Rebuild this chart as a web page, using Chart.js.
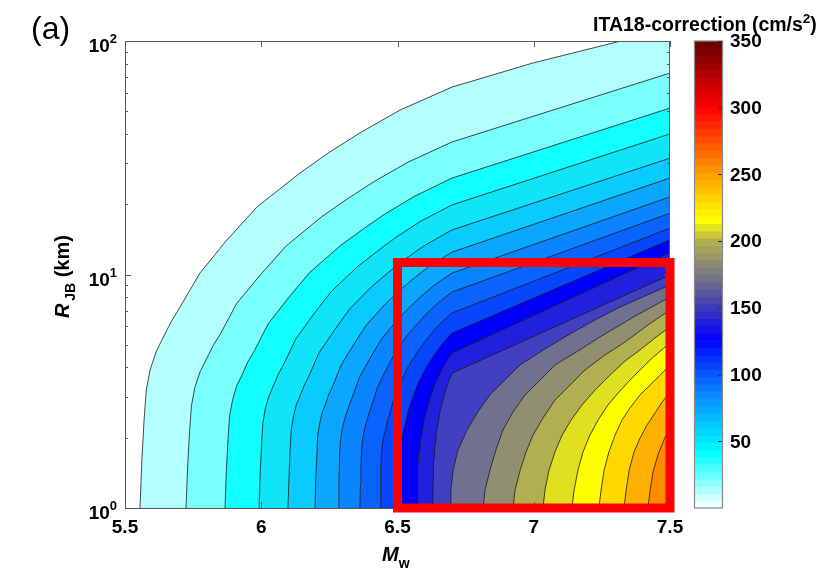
<!DOCTYPE html>
<html>
<head>
<meta charset="utf-8">
<script src="https://cdn.jsdelivr.net/npm/chart.js@4.4.1/dist/chart.umd.min.js"></script>
<style>
  html,body{margin:0;padding:0;background:#fff;}
  #wrap{position:relative;width:822px;height:570px;}
</style>
</head>
<body>
<div id="wrap"><canvas id="c" width="822" height="570"></canvas></div>
<script>
// ---------- data ----------
const xTicks = [5.5, 6, 6.5, 7, 7.5];
const yDecades = [1, 10, 100];
const cbarTicks = [50, 100, 150, 200, 250, 300, 350];
const cbarMax = 350;
// lower level of each filled band (cm/s^2), estimated
const levels = [12.5, 25, 37.5, 50, 62.5, 75, 87.5, 100, 112.5, 125, 137.5, 150, 162.5, 175, 187.5, 200, 212.5, 225, 237.5, 250];
// contour lines: Mw and R_JB (km) of each vertex
const contourMw = [
  [5.555, 5.562, 5.570, 5.578, 5.592, 5.614, 5.639, 5.669, 5.702, 5.775, 5.874, 5.984, 6.142, 6.252, 6.362, 6.509, 6.700, 6.997, 7.305, 7.5],
  [5.724, 5.730, 5.737, 5.744, 5.756, 5.775, 5.797, 5.822, 5.851, 5.909, 5.997, 6.090, 6.222, 6.319, 6.412, 6.539, 6.700, 7.5],
  [5.867, 5.872, 5.878, 5.884, 5.895, 5.910, 5.930, 5.950, 5.975, 6.025, 6.100, 6.179, 6.292, 6.375, 6.454, 6.563, 6.700, 7.5],
  [5.992, 5.996, 6.001, 6.006, 6.015, 6.029, 6.045, 6.063, 6.084, 6.127, 6.190, 6.258, 6.353, 6.424, 6.491, 6.583, 6.700, 7.5],
  [6.098, 6.102, 6.106, 6.110, 6.118, 6.129, 6.143, 6.158, 6.176, 6.212, 6.267, 6.324, 6.405, 6.465, 6.522, 6.601, 6.700, 7.5],
  [6.197, 6.200, 6.204, 6.207, 6.214, 6.223, 6.235, 6.247, 6.262, 6.293, 6.338, 6.386, 6.454, 6.504, 6.552, 6.617, 6.700, 7.5],
  [6.282, 6.285, 6.287, 6.290, 6.296, 6.304, 6.313, 6.324, 6.336, 6.361, 6.399, 6.439, 6.495, 6.537, 6.577, 6.631, 6.700, 7.5],
  [6.362, 6.364, 6.366, 6.369, 6.373, 6.380, 6.387, 6.396, 6.406, 6.426, 6.457, 6.489, 6.534, 6.568, 6.600, 6.644, 6.700, 7.5],
  [6.436, 6.438, 6.439, 6.441, 6.445, 6.450, 6.456, 6.462, 6.470, 6.486, 6.510, 6.535, 6.571, 6.597, 6.622, 6.656, 6.700, 7.5],
  [6.502, 6.503, 6.505, 6.506, 6.509, 6.512, 6.517, 6.522, 6.528, 6.540, 6.557, 6.576, 6.603, 6.623, 6.642, 6.667, 6.700, 7.5],
  [6.572, 6.573, 6.574, 6.575, 6.576, 6.579, 6.582, 6.585, 6.589, 6.596, 6.608, 6.620, 6.637, 6.650, 6.662, 6.679, 6.700, 7.5],
  [6.630, 6.6302, 6.631, 6.6312, 6.632, 6.634, 6.635, 6.637, 6.639, 6.643, 6.650, 6.656, 6.666, 6.673, 6.679, 6.689, 6.700, 7.5],
  [6.693, 6.696, 6.704, 6.722, 6.755, 6.795, 6.839, 6.894, 6.950, 7.041, 7.133, 7.225, 7.317, 7.408, 7.5],
  [6.814, 6.821, 6.839, 6.861, 6.887, 6.924, 6.968, 7.023, 7.078, 7.162, 7.243, 7.372, 7.5],
  [6.924, 6.931, 6.950, 6.972, 6.997, 7.034, 7.078, 7.133, 7.188, 7.261, 7.335, 7.419, 7.5],
  [7.034, 7.041, 7.056, 7.078, 7.104, 7.137, 7.177, 7.225, 7.280, 7.335, 7.390, 7.445, 7.5],
  [7.140, 7.148, 7.162, 7.181, 7.206, 7.236, 7.272, 7.313, 7.353, 7.390, 7.427, 7.464, 7.5],
  [7.239, 7.247, 7.258, 7.276, 7.298, 7.324, 7.353, 7.390, 7.427, 7.464, 7.5],
  [7.331, 7.339, 7.350, 7.368, 7.390, 7.416, 7.445, 7.471, 7.5],
  [7.419, 7.427, 7.438, 7.456, 7.478, 7.5]
];
const contourR = [
  [1, 1.61, 2.38, 3.20, 3.90, 4.66, 5.35, 6.26, 7.26, 10.15, 14.05, 19.45, 27.2, 33.5, 40.4, 50.6, 63.5, 80.5, 99.0, 113.7],
  [1, 1.51, 2.13, 2.75, 3.27, 3.82, 4.30, 4.93, 5.59, 7.49, 9.97, 13.21, 17.69, 21.19, 24.93, 30.29, 36.94, 72.9],
  [1, 1.45, 1.97, 2.49, 2.91, 3.34, 3.72, 4.21, 4.72, 6.14, 7.95, 10.24, 13.33, 15.68, 18.16, 21.64, 25.88, 51.6],
  [1, 1.41, 1.87, 2.31, 2.67, 3.03, 3.35, 3.75, 4.16, 5.30, 6.71, 8.48, 10.80, 12.53, 14.34, 16.86, 19.86, 40.0],
  [1, 1.37, 1.77, 2.16, 2.46, 2.77, 3.03, 3.36, 3.70, 4.62, 5.74, 7.11, 8.87, 10.18, 11.51, 13.35, 15.52, 31.5],
  [1, 1.33, 1.69, 2.03, 2.29, 2.55, 2.77, 3.05, 3.33, 4.09, 4.99, 6.08, 7.45, 8.46, 9.47, 10.86, 12.47, 25.9],
  [1, 1.30, 1.62, 1.91, 2.14, 2.36, 2.55, 2.78, 3.02, 3.64, 4.37, 5.24, 6.32, 7.10, 7.88, 8.93, 10.14, 21.5],
  [1, 1.27, 1.56, 1.82, 2.01, 2.20, 2.36, 2.56, 2.76, 3.28, 3.88, 4.59, 5.45, 6.06, 6.67, 7.48, 8.41, 18.3],
  [1, 1.24, 1.49, 1.71, 1.88, 2.04, 2.17, 2.34, 2.50, 2.92, 3.40, 3.95, 4.62, 5.09, 5.55, 6.15, 6.84, 15.8],
  [1, 1.22, 1.43, 1.62, 1.76, 1.90, 2.01, 2.14, 2.28, 2.62, 3.00, 3.43, 3.95, 4.30, 4.65, 5.10, 5.61, 14.1],
  [1, 1.19, 1.38, 1.53, 1.65, 1.76, 1.85, 1.97, 2.07, 2.35, 2.65, 2.98, 3.38, 3.65, 3.91, 4.24, 4.61, 12.4],
  [1, 1.16, 1.32, 1.45, 1.55, 1.64, 1.71, 1.80, 1.89, 2.10, 2.33, 2.59, 2.88, 3.08, 3.27, 3.52, 3.78, 9.95],
  [1, 1.19, 1.45, 1.77, 2.16, 2.58, 3.05, 3.53, 4.10, 4.80, 5.56, 6.39, 7.26, 8.09, 9.02],
  [1, 1.19, 1.45, 1.77, 2.16, 2.58, 3.05, 3.53, 4.10, 4.70, 5.40, 6.64, 8.01],
  [1, 1.19, 1.45, 1.74, 2.05, 2.43, 2.90, 3.36, 3.90, 4.52, 5.14, 6.08, 7.05],
  [1, 1.19, 1.45, 1.74, 2.05, 2.38, 2.76, 3.20, 3.71, 4.26, 4.75, 5.35, 5.96],
  [1, 1.19, 1.45, 1.74, 2.05, 2.38, 2.76, 3.14, 3.53, 3.90, 4.30, 4.70, 5.09],
  [1, 1.19, 1.45, 1.74, 2.05, 2.38, 2.68, 3.05, 3.36, 3.71, 4.10],
  [1, 1.19, 1.45, 1.74, 1.99, 2.27, 2.55, 2.84, 3.14],
  [1, 1.19, 1.43, 1.69, 1.96, 2.22]
];
// highlighted box (Mw, R)
const boxMw = [6.5, 6.5, 7.5, 7.5, 6.5];
const boxR = [1, 11.25, 11.25, 1, 1];

// ---------- styles ----------
const bandColors = ['#b3ffff','#7affff','#12ffff','#10e4f8','#0acbff','#0aa6ff','#0a85ff','#0a62ff','#0646ff','#0000ff',
  '#2020dd','#4040c0','#707090','#909070','#b0b050','#e0e020','#ffff00','#ffd800','#ffb000','#ff8c00'];
const cmapStops = [[0,'#ffffff'],[42,'#00ffff'],[85,'#0a8aff'],[127,'#0000ff'],[150,'#3a3ab8'],[176,'#7a7a80'],
  [200,'#b0b050'],[216,'#ffff00'],[250,'#ffa000'],[300,'#ff0000'],[350,'#660000']];
const FONT = '"Liberation Sans", Arial, Helvetica, sans-serif';

function hex2rgb(h){return [parseInt(h.slice(1,3),16),parseInt(h.slice(3,5),16),parseInt(h.slice(5,7),16)];}
function cmap(v){
  for(let i=0;i<cmapStops.length-1;i++){
    const [a,ca]=cmapStops[i],[b,cb]=cmapStops[i+1];
    if(v<=b){const t=(v-a)/(b-a);const A=hex2rgb(ca),B=hex2rgb(cb);
      return 'rgb('+A.map((x,k)=>Math.round(x+(B[k]-x)*t)).join(',')+')';}
  }
  return cmapStops[cmapStops.length-1][1];
}

const datasets = contourMw.map((mw,i)=>({
  label: 'level ' + levels[i],
  data: mw.map((m,j)=>({x:m, y:contourR[i][j]})),
  borderColor:'#1c1c1c', borderWidth:0.8, pointRadius:0, tension:0,
  fill:'start', backgroundColor:bandColors[i], order:100-i, clip:0
}));
datasets.push({
  label:'box', data: boxMw.map((m,j)=>({x:m, y:boxR[j]})),
  borderColor:'#ff0000', borderWidth:9, pointRadius:0, tension:0, fill:false,
  order:-1, clip:false, borderJoinStyle:'miter', borderCapStyle:'square'
});

function drawMixed(ctx, parts, x, y){ // parts: [text, font, dy]
  let cx=x;
  for(const [t,f,dy] of parts){ctx.font=f; ctx.fillText(t,cx,y+dy); cx+=ctx.measureText(t).width;}
  return cx;
}
function mixedWidth(ctx, parts){let w=0;for(const [t,f] of parts){ctx.font=f;w+=ctx.measureText(t).width;}return w;}

const decor = {
  id:'decor',
  afterDatasetDraw(chart,args){
    if(args.index!==contourMw.length-1) return;
    const {ctx, chartArea:a, scales:{x,y}} = chart;
    ctx.save();
    ctx.strokeStyle='#5a5a5a'; ctx.lineWidth=1;
    ctx.strokeRect(a.left+0.5, a.top+0.5, a.right-a.left-1, a.bottom-a.top);
    ctx.beginPath();
    for(const t of xTicks){const px=Math.round(x.getPixelForValue(t))+0.5;
      ctx.moveTo(px,a.bottom); ctx.lineTo(px,a.bottom-6); ctx.moveTo(px,a.top); ctx.lineTo(px,a.top+6);}
    for(const d of [1,10]){for(let k=1;k<=10;k++){const v=d*k; const py=Math.round(y.getPixelForValue(v))+0.5;
      const len=(k===1||k===10)?6:3;
      ctx.moveTo(a.left,py); ctx.lineTo(a.left+len,py); ctx.moveTo(a.right,py); ctx.lineTo(a.right-len,py);}}
    ctx.stroke();
    ctx.restore();
  },
  afterDraw(chart){
    const {ctx, chartArea:a, scales:{x,y,cb}} = chart;
    ctx.save();
    ctx.fillStyle='#000';
    // x tick labels
    ctx.font='bold 19px '+FONT; ctx.textAlign='center'; ctx.textBaseline='alphabetic';
    for(const t of xTicks){ctx.fillText(String(t), x.getPixelForValue(t), 533);}
    // y tick labels 10^n
    ctx.textAlign='left';
    for(const d of yDecades){
      const py=y.getPixelForValue(d); const e=String(Math.round(Math.log10(d)));
      const parts=[['10','bold 19px '+FONT,11],[e,'bold 13px '+FONT,2]];
      const w=mixedWidth(ctx,parts); drawMixed(ctx,parts,117-w,py);
    }
    // x title
    drawMixed(ctx,[['M','italic bold 20px '+FONT,0],['w','bold 14px '+FONT,7]],382,561);
    // y title
    ctx.save(); ctx.translate(69,318); ctx.rotate(-Math.PI/2);
    drawMixed(ctx,[['R','italic bold 20px '+FONT,0],['\u2009JB','bold 14px '+FONT,6],[' (km)','bold 20px '+FONT,0]],0,0);
    ctx.restore();
    // panel label
    ctx.font='32px '+FONT; ctx.fillText('(a)',31,39);
    // colorbar
    const L=694, R=722, top=cb.getPixelForValue(cbarMax), bot=cb.getPixelForValue(0);
    const n=64;
    for(let i=0;i<n;i++){
      const v0=i*cbarMax/n, v1=(i+1)*cbarMax/n;
      const y0=cb.getPixelForValue(v0), y1=cb.getPixelForValue(v1);
      ctx.fillStyle=cmap((v0+v1)/2); ctx.fillRect(L,y1,R-L,y0-y1+0.6);
    }
    ctx.strokeStyle='#8a8a8a'; ctx.lineWidth=1.2; ctx.strokeRect(L+0.5,top,R-L,bot-top);
    ctx.strokeStyle='#333'; ctx.lineWidth=1; ctx.beginPath();
    for(const t of cbarTicks){const py=Math.round(cb.getPixelForValue(t))+0.5; ctx.moveTo(R,py); ctx.lineTo(R-4,py);}
    ctx.stroke();
    ctx.fillStyle='#000'; ctx.font='bold 19px '+FONT; ctx.textAlign='left'; ctx.textBaseline='middle';
    for(const t of cbarTicks){ctx.fillText(String(t),730,cb.getPixelForValue(t)+1);}
    ctx.textBaseline='alphabetic';
    drawMixed(ctx,[['ITA18-correction (cm/s','bold 19.5px '+FONT,0],['2','bold 13.5px '+FONT,-8],[')','bold 19.5px '+FONT,0]],593,31);
    ctx.restore();
  }
};

new Chart(document.getElementById('c'),{
  type:'line',
  data:{datasets},
  options:{
    responsive:false, animation:false, events:[],
    layout:{padding:{left:125,right:152,top:41,bottom:62}},
    plugins:{legend:{display:false},tooltip:{enabled:false},filler:{propagate:false}},
    scales:{
      x:{type:'linear',min:5.5,max:7.5,display:false},
      y:{type:'logarithmic',min:1,max:100,display:false},
      cb:{type:'linear',min:0,max:cbarMax,display:false,position:'right'}
    }
  },
  plugins:[decor]
});
</script>
</body>
</html>
